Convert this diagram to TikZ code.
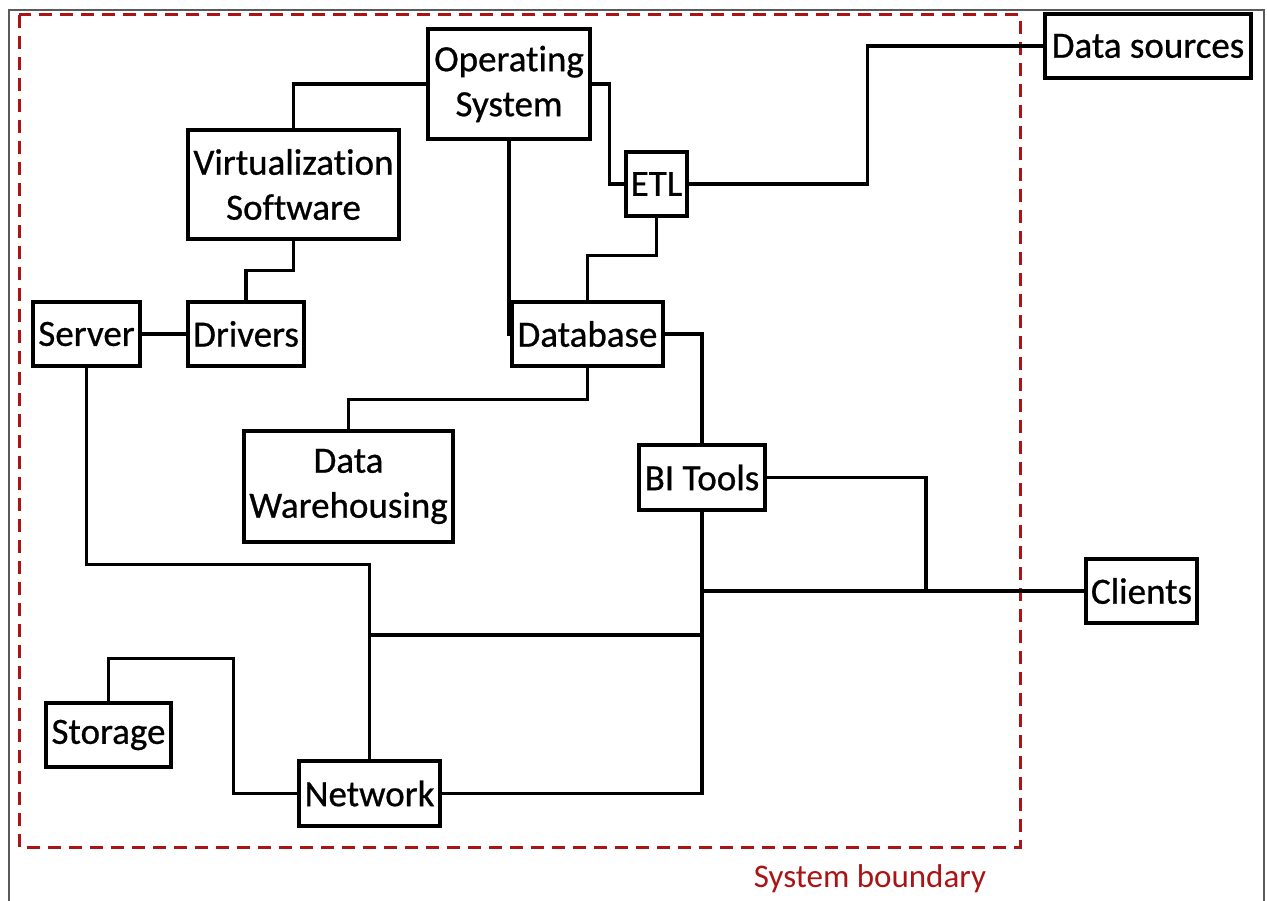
\documentclass[tikz,border=0pt]{standalone}
\usepackage{fontspec}
\setmainfont{Carlito}[Ligatures=NoCommon, BoldFont=Carlito, BoldFeatures={FakeBold=0.7}]
\usetikzlibrary{calc}
\definecolor{boundred}{RGB}{170,20,20}
\definecolor{framegray}{RGB}{90,90,90}
\begin{document}
\begin{tikzpicture}[x=1pt,y=-1pt,
  blk/.style={draw=black, line width=3.2pt, rectangle, inner sep=0pt,
    align=center, font=\fontsize{37}{45}\selectfont\bfseries},
  wire/.style={draw=black, line width=3.2pt},
  boundary/.style={draw=boundred, line width=3pt, dash pattern=on 13pt off 8pt}]
\useasboundingbox (0,0) rectangle (1267,901);
\fill[white] (0,0) rectangle (1267,901);

% outer frame
\draw[framegray, line width=1.8pt] (9,901) -- (9,10) -- (1264,10) -- (1264,901);

% system boundary
\draw[boundary] (19,15) rectangle (1020,847);
\node[text=boundred, font=\fontsize{33}{38}\selectfont, anchor=center] (blabel) at (870,879) {System boundary};

% components
\node[blk, minimum width=162pt, minimum height=110pt] (os) at (509,84) {Operating\\System};
\node[blk, minimum width=211pt, minimum height=109pt] (virt) at (293.5,184.5) {Virtualization\\Software};
\node[blk, minimum width=61pt, minimum height=64pt] (etl) at (656.5,184) {ETL};
\node[blk, minimum width=206pt, minimum height=64pt] (src) at (1148,46) {Data sources};
\node[blk, minimum width=107pt, minimum height=64pt] (server) at (86.5,334) {Server};
\node[blk, minimum width=116pt, minimum height=64pt] (drivers) at (246,334) {Drivers};
\node[blk, minimum width=151pt, minimum height=64pt] (db) at (587.5,334) {Database};
\node[blk, minimum width=209pt, minimum height=111pt] (dw) at (348.5,486.5) {Data\\Warehousing};
\node[blk, minimum width=126pt, minimum height=65pt] (bi) at (702,477.5) {BI Tools};
\node[blk, minimum width=111pt, minimum height=64pt] (clients) at (1141.5,591) {Clients};
\node[blk, minimum width=125pt, minimum height=64pt] (storage) at (108.5,735) {Storage};
\node[blk, minimum width=141pt, minimum height=65pt] (network) at (369.5,793.5) {Network};

% junction points of the bus lines
\coordinate (busy) at (0,635);
\coordinate (cliy) at (926,591);

% connectors
\draw[wire] (os.west) -| (virt.north);
\draw[wire] (virt.south) -- ++(0,30) -| (drivers.north);
\draw[wire] (server.east) -- (drivers.west);
\draw[wire] (os.south) |- (db.west);
\draw[wire] (os.east) -- ++(18,0) |- (etl.west);
\draw[wire] (db.north) -- ++(0,-45) -| (etl.south);
\draw[wire] (etl.east) -- ++(179,0) |- (src.west);
\draw[wire] (db.east) -| (bi.north);
\draw[wire] (db.south) -- ++(0,32) -| (dw.north);
\draw[wire] (server.south) -- ++(0,197) -| (network.north);
\draw[wire] (storage.north) -- ++(0,-43) -| ($(network.west)+(-64,0)$) -- (network.west);
\draw[wire] (bi.south) |- (network.east);
\draw[wire] (network.north |- busy) -- (bi.south |- busy);
\draw[wire] (clients.west) -- (bi.south |- clients.west);
\draw[wire] (bi.east) -| (cliy);
\end{tikzpicture}
\end{document}
